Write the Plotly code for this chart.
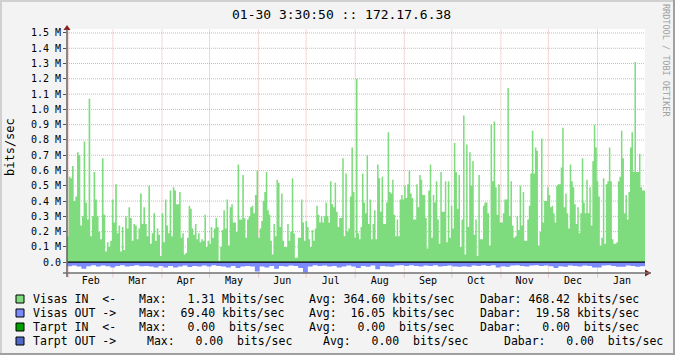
import plotly.graph_objects as go
import pandas as pd

# ---------------- data (Mbits/sec), six consecutive ~2-month stretches ----------------
range_start = "2010-01-31"
range_end = "2011-01-31"

in_seg1 = [0.17,0.56,0.55,0.63,0.40,0.43,0.72,0.70,0.24,0.30,0.79,0.39,0.28,1.07,0.17,0.30,0.59,0.41,0.30,0.20,
           0.15,0.68,0.31,0.07,0.13,0.10,0.14,0.41,0.26,0.51,0.19,0.24,0.07,0.23,0.08,0.30,0.22,0.36,0.29,0.14,
           0.25,0.24,0.15,0.22,0.45,0.25,0.36,0.25,0.17,0.50,0.12,0.19,0.32,0.14,0.22,0.18,0.04,0.32]
in_seg2 = [0.13,0.41,0.24,0.19,0.47,0.17,0.49,0.47,0.38,0.38,0.46,0.16,0.19,0.05,0.06,0.16,0.37,0.35,0.22,0.18,
           0.25,0.15,0.19,0.13,0.15,0.14,0.31,0.10,0.14,0.12,0.23,0.16,0.22,0.29,0.23,0.01,0.10,0.21,0.34,0.22,
           0.41,0.11,0.36,0.38,0.26,0.26,0.20,0.64,0.28,0.28,0.57,0.29,0.16,0.28,0.30,0.36,0.37,0.32,0.44,0.60,0.16]
in_seg3 = [0.22,0.27,0.40,0.46,0.59,0.34,0.31,0.14,0.05,0.25,0.17,0.54,0.52,0.23,0.45,0.14,0.10,0.10,0.25,0.14,
           0.20,0.55,0.19,0.03,0.03,0.16,0.16,0.41,0.26,0.14,0.27,0.23,0.15,0.10,0.21,0.14,0.22,0.37,0.31,0.26,
           0.30,0.26,0.30,0.39,0.30,0.26,0.53,0.38,0.36,0.52,0.33,0.23,0.29,0.29,0.68,0.17,0.58,0.20,0.22,0.43,
           0.75,0.46,0.16]
in_seg4 = [1.20,0.19,0.15,0.23,0.58,0.39,0.32,0.70,0.25,0.41,0.15,0.25,0.34,0.15,0.64,0.55,0.33,0.56,0.25,0.25,
           0.39,0.85,0.46,0.45,0.54,0.31,0.17,0.28,0.17,0.41,0.44,0.41,0.50,0.42,0.51,0.60,0.45,0.42,0.28,0.28,
           0.51,0.36,0.57,0.54,0.44,0.44,0.29,0.09,0.47,0.64,0.16,0.44,0.39,0.53,0.28,0.12,0.59,0.33,0.33,0.53,
           0.13,0.53,0.16,0.37]
in_seg5 = [0.22,0.78,0.59,0.35,0.57,0.10,0.28,0.96,0.05,0.77,0.23,0.72,0.50,0.66,0.18,0.28,0.04,0.57,0.15,0.15,
           0.37,0.39,0.39,0.32,0.11,0.90,0.53,0.92,0.49,0.31,0.51,0.26,0.26,0.32,0.41,0.41,1.14,0.30,0.53,0.24,
           0.16,0.17,0.30,0.21,0.50,0.24,0.46,0.14,0.14,0.28,0.37,0.58,0.86,0.58,0.75,0.73,0.11,0.20,0.81,0.26,
           0.40,0.40,0.49]
in_seg6 = [0.44,0.36,0.37,0.32,0.26,0.50,0.51,0.51,0.62,0.88,0.36,0.45,0.32,0.22,0.64,0.53,0.49,0.38,0.25,0.36,
           0.19,0.32,0.68,0.39,0.32,0.54,0.32,0.49,0.24,0.66,0.90,0.75,0.53,0.43,0.11,0.16,0.55,0.12,0.51,0.53,
           0.75,0.53,0.15,0.12,0.12,0.13,0.53,0.56,0.86,0.68,0.32,0.44,0.28,0.46,0.75,0.85,0.59,1.31,0.59,0.59,
           0.71,0.49,0.47,0.47]

out_seg1 = [0.026,0.022,0.028,0.042,0.026,0.020,0.028,0.022,0.026,0.034,0.024,0.020,0.028,0.024,0.020,0.026,0.024,0.028,0.034,0.024]
out_seg2 = [0.034,0.024,0.034,0.028,0.022,0.032,0.024,0.028,0.022,0.028,0.020,0.024,0.028,0.034,0.024,0.038,0.028,0.024,0.028,0.060]
out_seg3 = [0.028,0.034,0.024,0.042,0.024,0.028,0.022,0.024,0.038,0.069,0.028,0.020,0.024,0.022,0.028,0.024,0.034,0.028,0.022,0.028]
out_seg4 = [0.038,0.024,0.030,0.022,0.046,0.024,0.028,0.030,0.022,0.020,0.024,0.020,0.024,0.028,0.022,0.024,0.020,0.028,0.024,0.022]
out_seg5 = [0.028,0.030,0.026,0.030,0.022,0.024,0.020,0.024,0.020,0.034,0.026,0.030,0.022,0.020,0.024,0.028,0.022,0.020,0.024,0.022]
out_seg6 = [0.026,0.038,0.026,0.030,0.022,0.024,0.028,0.022,0.024,0.034,0.034,0.022,0.020,0.024,0.030,0.030,0.022,0.024,0.030,0.026]

y_tick_vals = [0.0,0.1,0.2,0.3,0.4,0.5,0.6,0.7,0.8,0.9,1.0,1.1,1.2,1.3,1.4,1.5]
y_tick_text = ["0.0","0.1 M","0.2 M","0.3 M","0.4 M","0.5 M","0.6 M","0.7 M","0.8 M","0.9 M",
               "1.0 M","1.1 M","1.2 M","1.3 M","1.4 M","1.5 M"]

legend_rows = [
    ("Visas IN  <-", "Max:   1.31 Mbits/sec", "Avg: 364.60 kbits/sec", "Dabar: 468.42 kbits/sec"),
    ("Visas OUT ->", "Max:  69.40 kbits/sec", "Avg:  16.05 kbits/sec", "Dabar:  19.58 kbits/sec"),
    ("Tarpt IN  <-", "Max:   0.00  bits/sec", "Avg:   0.00  bits/sec", "Dabar:   0.00  bits/sec"),
    ("Tarpt OUT ->", "Max:   0.00  bits/sec", "Avg:   0.00  bits/sec", "Dabar:   0.00  bits/sec"),
]
legend_colors = ["#7edc7e", "#7b8bff", "#00a000", "#5068c8"]

# ---------------- helpers ----------------
t0 = pd.Timestamp(range_start)
t1 = pd.Timestamp(range_end)


def step_series(segs, sign=1.0):
    xs, ys = [], []
    total = t1 - t0
    n = len(segs)
    for i, vals in enumerate(segs):
        s0 = t0 + total * i / n
        step = (total / n) / len(vals)
        for j, v in enumerate(vals):
            xs.append(s0 + step * j)
            ys.append(sign * v)
    xs.append(t1)
    ys.append(ys[-1])
    return xs, ys


W, H = 675, 355
L, R, T, B = 67, 30, 29, 82
PW, PH = W - L - R, H - T - B


def px(x):
    return (x - L) / PW


def py(y):
    return (H - B - y) / PH


FONT = "DejaVu Sans Mono"
GREEN, BLUE = legend_colors[0], legend_colors[1]
GRID = "rgba(215,90,90,0.5)"

fig = go.Figure()

xi, yi = step_series([in_seg1, in_seg2, in_seg3, in_seg4, in_seg5, in_seg6])
xo, yo = step_series([out_seg1, out_seg2, out_seg3, out_seg4, out_seg5, out_seg6], sign=-1.0)

fig.add_trace(go.Scatter(x=xi, y=yi, mode="lines", line=dict(width=0, shape="hv", color=GREEN),
                         fill="tozeroy", fillcolor=GREEN, hoverinfo="skip", showlegend=False))
fig.add_trace(go.Scatter(x=xo, y=yo, mode="lines", line=dict(width=0, shape="hv", color=BLUE),
                         fill="tozeroy", fillcolor=BLUE, hoverinfo="skip", showlegend=False))

shapes = []
# horizontal grid (below the areas)
for v in y_tick_vals[1:]:
    shapes.append(dict(type="line", xref="paper", yref="y", x0=0, x1=1, y0=v, y1=v,
                       line=dict(color=GRID, width=1, dash="1px,1px"), layer="below"))
# vertical month grid
for m in pd.date_range("2010-02-01", "2011-01-01", freq="MS"):
    shapes.append(dict(type="line", xref="x", yref="paper", x0=m, x1=m, y0=-0.018, y1=1,
                       line=dict(color=GRID, width=1, dash="1px,1px"), layer="below"))
# zero line
shapes.append(dict(type="line", xref="paper", yref="y", x0=0, x1=1, y0=0, y1=0,
                   line=dict(color="black", width=1.3), layer="above"))
# arrows
shapes.append(dict(type="path", xref="paper", yref="paper", xsizemode="pixel", ysizemode="pixel",
                   xanchor=0, yanchor=1, path="M -3.5,-1 L 3.5,-1 L 0,4 Z",
                   fillcolor="#8b1a1a", line=dict(width=0), layer="above"))
shapes.append(dict(type="path", xref="paper", yref="paper", xsizemode="pixel", ysizemode="pixel",
                   xanchor=1, yanchor=0, path="M 0,-3.5 L 0,3.5 L 6,0 Z",
                   fillcolor="#8b1a1a", line=dict(width=0), layer="above"))
# axis lines
shapes.append(dict(type="line", xref="paper", yref="paper", x0=0, x1=0, y0=-0.016, y1=1,
                   line=dict(color="#606060", width=1.5), layer="above"))
shapes.append(dict(type="line", xref="paper", yref="paper", x0=px(63), x1=px(651), y0=0, y1=0,
                   line=dict(color="#707070", width=1.5), layer="above"))
# outer border
shapes.append(dict(type="line", xref="paper", yref="paper", x0=px(0), x1=px(W), y0=py(1), y1=py(1),
                   line=dict(color="#d0d0d0", width=2)))
shapes.append(dict(type="line", xref="paper", yref="paper", x0=px(1), x1=px(1), y0=py(0), y1=py(H),
                   line=dict(color="#d0d0d0", width=2)))
shapes.append(dict(type="line", xref="paper", yref="paper", x0=px(0), x1=px(W), y0=py(H - 1), y1=py(H - 1),
                   line=dict(color="#a0a0a0", width=2)))
shapes.append(dict(type="line", xref="paper", yref="paper", x0=px(W - 1), x1=px(W - 1), y0=py(0), y1=py(H),
                   line=dict(color="#a0a0a0", width=2)))

annotations = []
annotations.append(dict(text="01-30 3:30:50 :: 172.17.6.38", xref="paper", yref="paper",
                        x=px(341), y=py(14), xanchor="center", yanchor="middle", showarrow=False,
                        font=dict(family=FONT, size=13, color="#000")))
annotations.append(dict(text="bits/sec", xref="paper", yref="paper", x=px(10), y=py(147),
                        xanchor="center", yanchor="middle", textangle=-90, showarrow=False,
                        font=dict(family=FONT, size=12, color="#000")))
annotations.append(dict(text="RRDTOOL / TOBI OETIKER", xref="paper", yref="paper", x=px(666), y=py(60),
                        xanchor="center", yanchor="middle", textangle=90, showarrow=False,
                        font=dict(family=FONT, size=8.5, color="#a0a0a0")))

row_y = [299, 313, 327, 341]
col_x = [[31, 137, 307, 478], [31, 137, 307, 478], [31, 137, 307, 478], [31, 145, 321, 502]]
for r, (items, col) in enumerate(zip(legend_rows, legend_colors)):
    shapes.append(dict(type="rect", xref="paper", yref="paper", x0=px(16), x1=px(24),
                       y0=py(row_y[r] + 4), y1=py(row_y[r] - 4), fillcolor=col,
                       line=dict(color="#000", width=1)))
    for txt, xx in zip(items, col_x[r]):
        annotations.append(dict(text=txt.replace(" ", "&nbsp;"), xref="paper", yref="paper", x=px(xx),
                                y=py(row_y[r]), xanchor="left", yanchor="middle", showarrow=False,
                                font=dict(family=FONT, size=11.5, color="#000")))

fig.update_layout(
    width=W, height=H,
    margin=dict(l=L, r=R, t=T, b=B),
    paper_bgcolor="#f3f3f3", plot_bgcolor="#ffffff",
    showlegend=False,
    shapes=shapes, annotations=annotations,
    xaxis=dict(type="date", range=[t0, t1], dtick="M1", tick0="2010-02-01", tickformat="%b",
               ticklabelmode="period", showgrid=False, zeroline=False, showline=False,
               ticks="",
               tickfont=dict(family=FONT, size=10, color="#000")),
    yaxis=dict(range=[-0.0706, 1.526], tickvals=y_tick_vals, ticktext=y_tick_text,
               showgrid=False, zeroline=False, showline=False,
               ticks="outside", ticklen=3, tickcolor="#505050",
               tickfont=dict(family=FONT, size=10, color="#000")),
)

fig.write_html("out.html")
